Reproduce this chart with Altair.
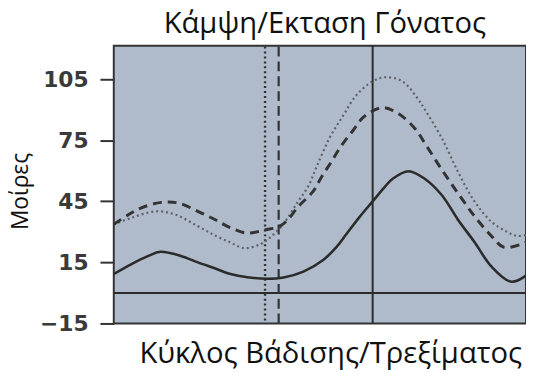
import altair as alt
import pandas as pd

# Gait cycle (%) and knee angle (degrees) for the three curves
solid_x = [0, 4.3, 8.4, 11.3, 16.3, 20.4, 24.5, 28.3, 32.4, 37.2, 41.2, 46.0, 50.8, 54.0, 56.4, 59.5, 62.8, 65.9, 67.6, 71.5, 75.5, 79.6, 83.5, 87.5, 91.6, 96.4, 100]
solid_y = [9.3, 14.2, 18.2, 20.2, 18.2, 15.0, 12.1, 9.3, 7.7, 7.0, 7.6, 10.5, 16.2, 22.5, 28.8, 37, 45, 52.5, 56, 59.8, 56, 48, 36, 25, 13, 5.5, 8.5]

dashed_x = [0, 3.6, 6.7, 11.5, 15.6, 20.4, 24.5, 28.3, 32.4, 36.7, 40.0, 42.0, 44.8, 48.4, 50.4, 52.8, 55.2, 58.0, 60.7, 65.2, 69.1, 73.1, 75.5, 79.6, 83.5, 87.5, 91.6, 94.7, 100]
dashed_y = [33.7, 38.5, 41.8, 44.5, 44.2, 40.1, 36.1, 32, 29.4, 31, 32.5, 35.5, 42.5, 50, 57, 64.5, 72.3, 79.7, 86.6, 91, 88, 80.7, 73.4, 60.5, 49, 37.7, 28, 22.4, 24.8]

dotted_x = [0, 4.3, 10.1, 14.9, 20.4, 24.5, 28.3, 31.7, 35.5, 37.9, 41.2, 44.4, 47.2, 49.2, 52.3, 55.6, 58.8, 62.8, 65.9, 70.0, 73.9, 75.5, 79.6, 83.5, 87.5, 91.6, 95.4, 97.8, 100]
dotted_y = [33.7, 36.9, 40.1, 38.5, 32.8, 28.3, 24.8, 22, 23.9, 27.2, 34, 44, 52.5, 62, 76, 87, 97, 104, 106, 104, 95, 90, 76, 59.5, 45, 35, 30, 28, 28.5]

# Toe-off markers (% of cycle)
toe_off = {"dotted": 36.7, "dashed": 40.0, "solid": 62.8}

y_ticks = [-15, 15, 45, 75, 105]
y_domain = [-15, 121.5]

df_solid = pd.DataFrame({"pct": solid_x, "deg": solid_y})
df_dashed = pd.DataFrame({"pct": dashed_x, "deg": dashed_y})
df_dotted = pd.DataFrame({"pct": dotted_x, "deg": dotted_y})

x_scale = alt.Scale(domain=[0, 100], nice=False, zero=False)
y_scale = alt.Scale(domain=y_domain, nice=False, zero=False)

x_axis = alt.Axis(labels=False, ticks=False, domain=False, grid=False,
                  title="Κύκλος Βάδισης/Τρεξίματος",
                  titleFont="Open Sans", titleFontSize=29.5, titleFontWeight="normal",
                  titleColor="#111111", titleX=219, titleY=40,
                  titleBaseline="alphabetic")
y_axis = alt.Axis(values=y_ticks, grid=False, domain=False,
                  tickSize=14, tickWidth=2, tickColor="#333333",
                  labelFont="DejaVu Sans", labelFontSize=22, labelFontWeight="bold",
                  labelColor="#3a3a3a", labelPadding=12,
                  title="Μοίρες", titleFont="Open Sans", titleFontSize=23,
                  titleFontWeight="normal", titleColor="#111111",
                  titleX=-87, titleY=147, titleBaseline="alphabetic")

base_x = alt.X("pct:Q", scale=x_scale, axis=x_axis)
base_y = alt.Y("deg:Q", scale=y_scale, axis=y_axis)

interp = "catmull-rom"
solid = alt.Chart(df_solid).mark_line(interpolate=interp, color="#2b2b2b", strokeWidth=2.6).encode(x=base_x, y=base_y)
dashed = alt.Chart(df_dashed).mark_line(interpolate=interp, color="#333333", strokeWidth=3, strokeDash=[9, 6]).encode(x=base_x, y=base_y)
dotted = alt.Chart(df_dotted).mark_line(interpolate=interp, color="#5e6166", strokeWidth=2.2, strokeDash=[2, 3]).encode(x=base_x, y=base_y)

vlines = pd.DataFrame({
    "pct": [toe_off["dotted"], toe_off["dashed"], toe_off["solid"]],
    "lo": [-13.5, -15, -15],
    "hi": [121.5, 121.5, 121.5],
    "kind": ["dotted", "dashed", "solid"],
})
v_dotted = alt.Chart(vlines).transform_filter(alt.datum.kind == "dotted").mark_rule(
    color="#333333", strokeWidth=2.4, strokeDash=[2, 3]).encode(
    x=alt.X("pct:Q", scale=x_scale), y=alt.Y("lo:Q", scale=y_scale), y2="hi:Q")
v_dashed = alt.Chart(vlines).transform_filter(alt.datum.kind == "dashed").mark_rule(
    color="#333333", strokeWidth=2.2, strokeDash=[10, 5]).encode(
    x=alt.X("pct:Q", scale=x_scale), y=alt.Y("lo:Q", scale=y_scale), y2="hi:Q")
v_solid = alt.Chart(vlines).transform_filter(alt.datum.kind == "solid").mark_rule(
    color="#2b2b2b", strokeWidth=2).encode(
    x=alt.X("pct:Q", scale=x_scale), y=alt.Y("lo:Q", scale=y_scale), y2="hi:Q")

zero_df = pd.DataFrame({"deg": [0]})
hline = alt.Chart(zero_df).mark_rule(color="#2b2b2b", strokeWidth=2).encode(
    y=alt.Y("deg:Q", scale=y_scale))

chart = alt.layer(hline, v_dotted, v_dashed, v_solid, dotted, dashed, solid).properties(
    width=417, height=281,
    title=alt.TitleParams("Κάμψη/Εκταση Γόνατος", font="Open Sans", fontSize=29.5,
                          fontWeight="normal", color="#111111", anchor="middle",
                          offset=5, dx=5),
    autosize=alt.AutoSizeParams(type="none"),
    padding={"left": 107, "top": 36, "right": 0, "bottom": 47},
).configure(background="white").configure_view(fill="#afbbca", stroke="#333333", strokeWidth=2)

chart.save("out.html", embed_options={"renderer": "svg", "actions": False})
